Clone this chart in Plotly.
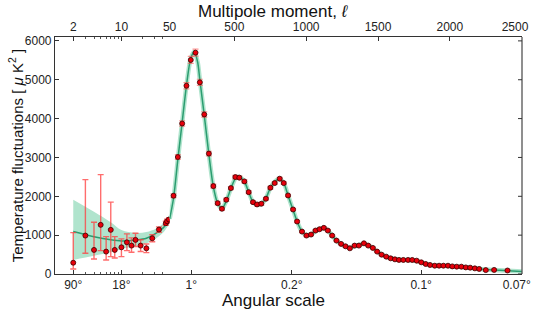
import numpy as np
import plotly.graph_objects as go

# low-l points (individual multipoles / coarse bins)
ell_low = [2, 3, 4, 5, 6, 7, 8, 10, 12, 14, 16, 19, 23, 28, 35, 44, 46, 49]
dl_low = [290, 989, 620, 1265, 576, 1136, 620, 687, 816, 731, 878, 731, 661, 919, 1144, 1307, 1358, 1402]
err_low_plus = [775, 1440, 713, 1292, 387, 713, 343, 217, 217, 199, 170, 150, 110, 90, 70, 55, 50, 50]
err_low_minus = [160, 456, 233, 663, 214, 689, 207, 240, 214, 173, 170, 150, 110, 90, 70, 55, 50, 50]

# binned high-l points
ell_high = [77, 107, 137, 167, 197, 230, 260, 291, 323, 354, 384, 414, 444, 476, 507,
            535, 570, 600, 630, 658, 688, 720, 751, 781, 816, 844, 874, 909, 937, 971,
            1002, 1034, 1065, 1093, 1123, 1151, 1181, 1211, 1243, 1274, 1304, 1337, 1367,
            1402, 1432, 1464, 1494, 1525, 1557, 1588, 1618, 1646, 1676, 1709, 1738, 1769,
            1801, 1832, 1862, 1895, 1925, 1955, 1987, 2017, 2048, 2080, 2111, 2141, 2174,
            2204, 2250, 2308, 2401]
dl_high = [2014, 3011, 3874, 4845, 5509, 5697, 4933, 4106, 3099, 2262, 1823, 1679, 1911, 2211, 2495,
           2479, 2384, 2107, 1849, 1790, 1808, 1937, 2221, 2340, 2453, 2340, 2022, 1661, 1351, 1092,
           989, 1015, 1118, 1152, 1188, 1118, 989, 860, 775, 713, 661, 731, 731,
           790, 731, 672, 576, 498, 447, 403, 377, 362, 362, 362, 362, 343,
           300, 258, 232, 214, 214, 214, 214, 196, 189, 189, 170, 163, 145,
           130, 100, 105, 90]
err_high = [50, 60, 70, 80, 90, 90, 80, 70, 60, 50, 45, 40, 40, 40, 45,
            45, 40, 40, 35, 35, 35, 35, 35, 35, 35, 35, 30, 30, 30, 25,
            25, 25, 25, 25, 25, 25, 25, 20, 20, 20, 20, 20, 20,
            20, 20, 20, 20, 20, 20, 20, 20, 20, 20, 20, 20, 20,
            20, 20, 20, 20, 20, 20, 20, 20, 20, 20, 20, 20, 20,
            20, 20, 20, 20]

# best-fit model curve
curve_ell = [2, 4, 7, 10, 16, 23, 32, 41, 50, 77, 107, 137, 167, 197, 222, 245, 260, 291, 323,
             354, 384, 414, 444, 476, 510, 535, 570, 600, 630, 660, 690, 720, 751, 781,
             810, 844, 874, 909, 937, 971, 1002, 1034, 1065, 1093, 1123, 1151, 1181, 1211, 1243,
             1274, 1304, 1337, 1367, 1402, 1432, 1464, 1494, 1525, 1557, 1588, 1618, 1676, 1738, 1801,
             1862, 1925, 1987, 2048, 2111, 2174, 2250, 2350, 2500]
curve_dl = [1095, 960, 880, 852, 875, 920, 1050, 1200, 1420, 1950, 2950, 3900, 4850, 5550, 5720, 5450, 5000, 4080, 3080,
            2250, 1820, 1680, 1880, 2200, 2470, 2500, 2380, 2110, 1850, 1780, 1810, 1950, 2220, 2370,
            2450, 2340, 2020, 1650, 1350, 1090, 1000, 1020, 1100, 1160, 1180, 1120, 990, 860, 770,
            710, 680, 710, 750, 780, 740, 670, 580, 500, 445, 405, 380, 362, 355, 300,
            235, 214, 208, 190, 170, 145, 115, 95, 65]

# cosmic variance band
band_ell = [2, 4, 7, 10, 16, 23, 32, 41, 50, 77, 107]
band_hi = [1911, 1600, 1330, 1130, 1060, 1080, 1170, 1320, 1530, 2030, 3040]
band_lo = [362, 470, 560, 640, 720, 790, 920, 1080, 1320, 1870, 2860]

# axis ticks
top_log_ticks = [2, 10, 50]
top_lin_ticks = [500, 1000, 1500, 2000, 2500]
top_lin_text = ["500", "1000", "1500", "2000", "2500\u00a0\u00a0\u00a0\u00a0"]
bot_log_ticks = [2, 10]
bot_log_text = ["90°", "18°"]
bot_lin_ticks = [200, 900, 1800, 2500]
bot_lin_text = ["1°", "0.2°", "0.1°", "0.07°\u00a0\u00a0\u00a0"]
minor_log = [3, 4, 5, 6, 7, 8, 9, 20, 30, 40]
y_ticks = [0, 1000, 2000, 3000, 4000, 5000, 6000]

LSPLIT = 50
GREEN = "#2b9d70"
BAND = "#b0e4cd"
AXC = "#333"
FONT = "Liberation Sans"


def part(xs, ys, low):
    pts = [(x, y) for x, y in zip(xs, ys) if (x <= LSPLIT if low else x >= LSPLIT)]
    return [p[0] for p in pts], [p[1] for p in pts]


fig = go.Figure()

for low, xa in [(True, "x"), (False, "x2")]:
    bx, bh = part(band_ell, band_hi, low)
    _, bl = part(band_ell, band_lo, low)
    fig.add_trace(go.Scatter(x=bx, y=bh, xaxis=xa, yaxis="y", mode="lines",
                             line=dict(width=0, color=BAND, shape="spline"), hoverinfo="skip"))
    fig.add_trace(go.Scatter(x=bx, y=bl, xaxis=xa, yaxis="y", mode="lines", fill="tonexty",
                             fillcolor=BAND, line=dict(width=0, color=BAND, shape="spline"),
                             hoverinfo="skip"))
    cx, cy = part(curve_ell, curve_dl, low)
    fig.add_trace(go.Scatter(x=cx, y=cy, xaxis=xa, yaxis="y", mode="lines",
                             line=dict(width=4.5, color=BAND, shape="spline", smoothing=0.8),
                             hoverinfo="skip"))
    fig.add_trace(go.Scatter(x=cx, y=cy, xaxis=xa, yaxis="y", mode="lines",
                             line=dict(width=1.5, color=GREEN, shape="spline", smoothing=0.8)))

# transparent copies so the top axes get drawn
for xa, low in [("x3", True), ("x4", False)]:
    cx, cy = part(curve_ell, curve_dl, low)
    fig.add_trace(go.Scatter(x=cx, y=cy, xaxis=xa, yaxis="y", mode="lines",
                             line=dict(width=0, color="rgba(0,0,0,0)"), hoverinfo="skip"))

# data points with error bars
fig.add_trace(go.Scatter(
    x=ell_low, y=dl_low, xaxis="x", yaxis="y", mode="markers",
    marker=dict(size=5, color="#e8000b", line=dict(width=0.8, color="#3a0000")),
    error_y=dict(type="data", symmetric=False, array=err_low_plus, arrayminus=err_low_minus,
                 color="rgba(255,60,60,0.75)", thickness=1.4, width=3)))
fig.add_trace(go.Scatter(
    x=ell_high, y=dl_high, xaxis="x2", yaxis="y", mode="markers",
    marker=dict(size=5, color="#e8000b", line=dict(width=0.8, color="#3a0000")),
    error_y=dict(type="data", array=err_high, color="rgba(255,80,80,0.6)",
                 thickness=1.2, width=3)))

log_range = [np.log10(1.087), np.log10(50.0) + 0.0005]
lin_range = [LSPLIT, 2502]
SPLIT = 0.2455
axis_common = dict(showline=True, linecolor=AXC, linewidth=1.1, showgrid=False,
                   zeroline=False, ticks="inside", ticklen=4, tickcolor=AXC,
                   automargin=False, ticklabeloverflow="allow",
                   tickfont=dict(family=FONT, size=12, color="#222"))
minor = dict(tickvals=minor_log, ticks="inside", ticklen=2, tickcolor="#555")

fig.update_layout(
    template="none",
    width=533, height=312, autosize=False,
    margin=dict(l=55, r=11, t=37, b=38, pad=0),
    paper_bgcolor="white", plot_bgcolor="white", showlegend=False,
    xaxis=dict(type="log", domain=[0, SPLIT], range=log_range, anchor="y",
               tickmode="array", tickvals=bot_log_ticks, ticktext=bot_log_text,
               minor=minor, **axis_common),
    xaxis2=dict(domain=[SPLIT, 1], range=lin_range, anchor="y",
                tickmode="array", tickvals=bot_lin_ticks, ticktext=bot_lin_text,
                **axis_common),
    xaxis3=dict(type="log", overlaying="x", side="top", range=log_range, anchor="y",
                tickmode="array", tickvals=top_log_ticks,
                ticktext=[str(t) for t in top_log_ticks], minor=minor, **axis_common),
    xaxis4=dict(overlaying="x2", side="top", range=lin_range, anchor="y",
                tickmode="array", tickvals=top_lin_ticks,
                ticktext=top_lin_text, **axis_common),
    yaxis=dict(range=[0, 6100], anchor="x", tickmode="array",
               tickvals=y_ticks, **axis_common),
)

# right-hand frame line with inward ticks
fig.add_shape(type="line", xref="paper", yref="paper", x0=1, x1=1, y0=0, y1=1,
              line=dict(color=AXC, width=1.1))
for t in y_ticks:
    fig.add_shape(type="line", xref="paper", yref="y", xsizemode="pixel", xanchor=1,
                  x0=-4, x1=0, y0=t, y1=t, line=dict(color=AXC, width=1))

title_font = dict(family=FONT, size=17, color="#111")
fig.add_annotation(text="Multipole moment, <i>ℓ</i>", xref="paper", yref="paper",
                   x=0.467, y=1.108, xanchor="center", yanchor="middle",
                   showarrow=False, font=title_font)
fig.add_annotation(text="Angular scale", xref="paper", yref="paper",
                   x=0.467, y=-0.113, xanchor="center", yanchor="middle",
                   showarrow=False, font=title_font)
fig.add_annotation(text="Temperature fluctuations [ <i>μ</i> K<sup>2</sup> ]",
                   xref="paper", yref="paper", x=-0.084, y=0.5, textangle=-90,
                   xanchor="center", yanchor="middle",
                   showarrow=False, font=dict(family=FONT, size=15, color="#111"))

fig.write_html("out.html", config={"displayModeBar": False},
               post_script="document.body.style.margin='0';")
